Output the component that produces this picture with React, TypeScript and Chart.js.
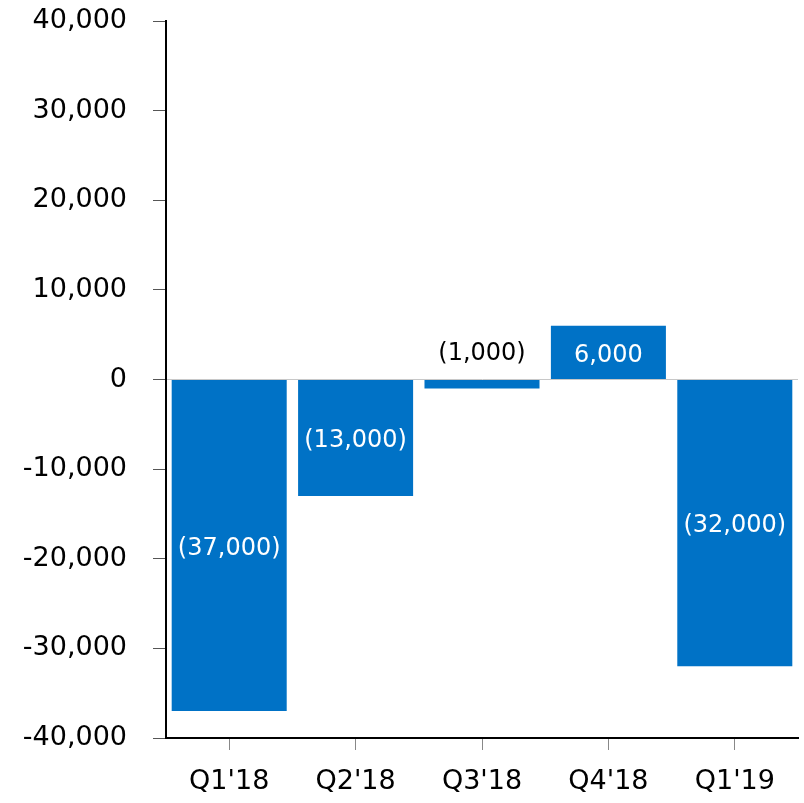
import React, { useEffect, useRef } from "react";
import { Chart, registerables } from "chart.js";

Chart.register(...registerables);

const categories = ["Q1'18", "Q2'18", "Q3'18", "Q4'18", "Q1'19"];
const values = [-37000, -13000, -1000, 6000, -32000];
const yMin = -40000;
const yMax = 40000;
const yStep = 10000;

const FONT = "'DejaVu Sans', Verdana, sans-serif";
const BAR_COLOR = "#0072C6";

const fmtTick = (v: number) => v.toLocaleString("en-US");
const fmtLabel = (v: number) =>
  v < 0 ? "(" + Math.abs(v).toLocaleString("en-US") + ")" : v.toLocaleString("en-US");

const labelPlugin = {
  id: "barLabels",
  afterDatasetsDraw(chart: any) {
    const ctx = chart.ctx;
    const meta = chart.getDatasetMeta(0);
    ctx.save();
    ctx.font = "24px " + FONT;
    ctx.textAlign = "center";
    ctx.textBaseline = "middle";
    meta.data.forEach((el: any, i: number) => {
      const v = values[i];
      const top = Math.min(el.y, el.base);
      const bottom = Math.max(el.y, el.base);
      const h = bottom - top;
      if (h > 40) {
        ctx.fillStyle = "#ffffff";
        ctx.fillText(fmtLabel(v), el.x, (top + bottom) / 2 + 3);
      } else {
        ctx.fillStyle = "#000000";
        ctx.fillText(fmtLabel(v), el.x, top - 26);
      }
    });
    ctx.restore();
  },
};

export default function App() {
  const ref = useRef<HTMLCanvasElement | null>(null);
  useEffect(() => {
    if (!ref.current) return;
    const chart = new Chart(ref.current, {
      type: "bar",
      data: {
        labels: categories,
        datasets: [
          {
            data: values,
            backgroundColor: BAR_COLOR,
            borderWidth: 0,
            barPercentage: 0.91,
            categoryPercentage: 1,
          },
        ],
      },
      options: {
        animation: false,
        responsive: true,
        maintainAspectRatio: false,
        layout: { padding: { top: 21, right: 6, left: 0, bottom: 0 } },
        plugins: {
          legend: { display: false },
          tooltip: { enabled: false },
        },
        scales: {
          x: {
            offset: true,
            grid: {
              display: true,
              drawOnChartArea: false,
              tickColor: "#888888",
              tickLength: 12,
              offset: false,
            },
            border: { color: "#000000", width: 2 },
            ticks: {
              color: "#000000",
              font: { family: FONT, size: 27 },
              padding: 16,
              maxRotation: 0,
            },
            afterFit: (s: any) => {
              s.height = 65;
              s.paddingLeft = 0;
              s.paddingRight = 0;
            },
          },
          y: {
            min: yMin,
            max: yMax,
            grid: {
              display: true,
              drawOnChartArea: true,
              color: (c: any) => (c.tick && c.tick.value === 0 ? "#c8c8c8" : "rgba(0,0,0,0)"),
              tickColor: "#555555",
              tickLength: 13,
            },
            border: { color: "#000000", width: 2 },
            ticks: {
              stepSize: yStep,
              color: "#000000",
              font: { family: FONT, size: 27 },
              padding: 26,
              callback: (v: any) => fmtTick(Number(v)),
            },
            afterFit: (s: any) => {
              s.width = 166;
              s.paddingTop = 0;
              s.paddingBottom = 0;
            },
          },
        },
      },
      plugins: [labelPlugin],
    });
    return () => chart.destroy();
  }, []);
  return (
    <div style={{ position: "fixed", left: 0, top: 0, width: 804, height: 803, background: "#fff" }}>
      <canvas ref={ref} />
    </div>
  );
}
